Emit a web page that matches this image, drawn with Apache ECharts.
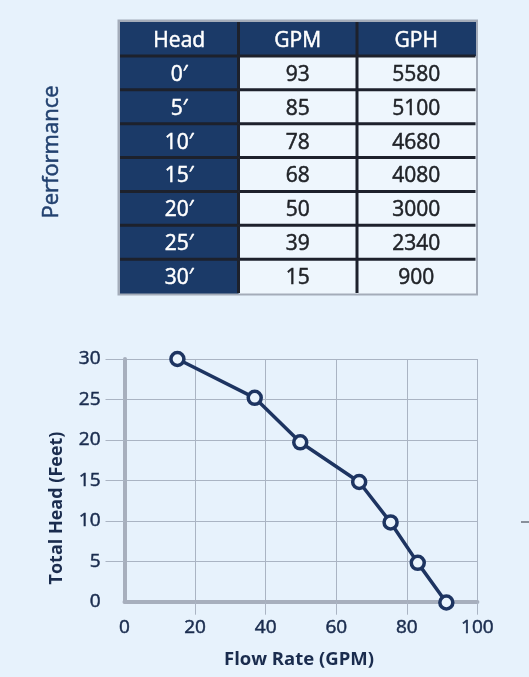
<!DOCTYPE html>
<html lang="en">
<head>
    <meta charset="UTF-8"/>
    <title>Performance</title>
    <script src="https://cdn.jsdelivr.net/npm/echarts@6/dist/echarts.min.js"></script>
    <style>
        html, body {
            margin: 0;
            padding: 0;
            background-color: #e7f2fc;
        }

        #chart {
            width: 529px;
            height: 677px;
        }
    </style>
</head>
<body>
<div id="chart"></div>

<script>
    // table values
    const tableHeaders = ['Head', 'GPM', 'GPH'];
    const headLabels = ['0′', '5′', '10′', '15′', '20′', '25′', '30′'];
    const gpmValues = [93, 85, 78, 68, 50, 39, 15];
    const gphValues = [5580, 5100, 4680, 4080, 3000, 2340, 900];

    // curve points as plotted (flow in GPM, head in feet)
    const curveFlow = [15, 36.9, 49.8, 66.5, 75.4, 83.1, 91.2];
    const curveHead = [30, 25.2, 19.7, 14.8, 9.8, 4.8, -0.1];

    const xTicks = [0, 20, 40, 60, 80, 100];
    const yTicks = [0, 5, 10, 15, 20, 25, 30];

    const NAVY = '#1b3a68';
    const INK = '#1a2c4e';
    const FONT = '"Open Sans", Lato, sans-serif';

    // table cells: [col, row], text looked up by index
    const cellPos = [];
    const cellText = [];
    tableHeaders.forEach(function (h, c) {
        cellPos.push([c, 0]);
        cellText.push(h);
    });
    headLabels.forEach(function (h, i) {
        const row = [h, String(gpmValues[i]), String(gphValues[i])];
        row.forEach(function (t, c) {
            cellPos.push([c, i + 1]);
            cellText.push(t);
        });
    });
    const rowCount = headLabels.length + 1;

    function renderCell(params, api) {
        const col = api.value(0);
        const row = api.value(1);
        const c = api.coord([col, row]);
        const s = api.size([1, 1]);
        const x0 = c[0] - s[0] / 2;
        const y0 = c[1] - s[1] / 2;
        const dark = col === 0 || row === 0;
        const ink = dark ? '#ffffff' : '#202328';
        const children = [
            {
                type: 'rect',
                z2: 0,
                shape: {x: x0, y: y0, width: s[0] + 0.5, height: s[1] + 0.5},
                style: {fill: dark ? NAVY : '#eef6fd'}
            },
            {
                type: 'text',
                z2: 5,
                style: {
                    text: cellText[params.dataIndex],
                    x: c[0],
                    y: c[1] + 2,
                    align: 'center',
                    verticalAlign: 'middle',
                    fill: ink,
                    stroke: ink,
                    lineWidth: 0.5,
                    font: '21px ' + FONT
                }
            }
        ];
        if (col < tableHeaders.length - 1) {
            children.push({
                type: 'line', z2: 10,
                shape: {x1: x0 + s[0], y1: y0, x2: x0 + s[0], y2: y0 + s[1]},
                style: {stroke: '#1d212c', lineWidth: 3}
            });
        }
        if (row < rowCount - 1) {
            children.push({
                type: 'line', z2: 10,
                shape: {x1: x0, y1: y0 + s[1], x2: x0 + s[0], y2: y0 + s[1]},
                style: {stroke: '#1d212c', lineWidth: 3}
            });
        }
        return {type: 'group', children: children};
    }

    const tickLabel = {
        fontSize: 19, color: INK, fontFamily: FONT,
        textBorderColor: INK, textBorderWidth: 0.5
    };

    const chart = echarts.init(document.getElementById('chart'));
    chart.setOption({
        backgroundColor: '#e7f2fc',
        animation: false,
        textStyle: {fontFamily: FONT},
        grid: [
            {
                left: 120, right: 53.5, top: 22, bottom: 384,
                show: true, borderColor: '#a4acb9', borderWidth: 5, backgroundColor: 'transparent'
            },
            {left: 124.5, right: 51.6, top: 359, bottom: 75.3}
        ],
        xAxis: [
            {
                gridIndex: 0, type: 'category', data: tableHeaders, show: false
            },
            {
                gridIndex: 1,
                type: 'value',
                min: 0,
                max: 100,
                interval: 20,
                axisLine: {show: true, lineStyle: {color: '#a7afbd', width: 4}},
                axisTick: {
                    show: true, length: 13, customValues: xTicks.slice(1),
                    lineStyle: {color: '#aab4c3', width: 1}
                },
                axisLabel: Object.assign({margin: 16, customValues: xTicks}, tickLabel),
                splitLine: {show: true, lineStyle: {color: '#aab4c3', width: 1}}
            }
        ],
        yAxis: [
            {
                gridIndex: 0, type: 'category', inverse: true,
                data: ['header'].concat(headLabels), show: false
            },
            {
                gridIndex: 1,
                type: 'value',
                min: 0,
                max: 30,
                interval: 5,
                axisLine: {show: true, lineStyle: {color: '#a7afbd', width: 4}},
                axisTick: {
                    show: true, length: 19, customValues: yTicks.slice(1),
                    lineStyle: {color: '#aab4c3', width: 1}
                },
                axisLabel: Object.assign({margin: 24, customValues: yTicks}, tickLabel),
                splitLine: {show: true, lineStyle: {color: '#aab4c3', width: 1}}
            }
        ],
        graphic: [
            {
                type: 'text', x: 52, y: 152, rotation: Math.PI / 2,
                style: {
                    text: 'Performance', fill: '#22416f', stroke: '#22416f', lineWidth: 0.5,
                    font: '22px ' + FONT, align: 'center', verticalAlign: 'middle'
                }
            },
            {
                type: 'text', x: 57, y: 508, rotation: Math.PI / 2,
                style: {
                    text: 'Total Head (Feet)', fill: INK, font: 'bold 18px ' + FONT,
                    align: 'center', verticalAlign: 'middle'
                }
            },
            {
                type: 'text', x: 299, y: 660,
                style: {
                    text: 'Flow Rate (GPM)', fill: INK, font: 'bold 18.5px ' + FONT,
                    align: 'center', verticalAlign: 'middle'
                }
            },
            {
                type: 'line', shape: {x1: 521, y1: 522, x2: 529, y2: 522},
                style: {stroke: '#2a2f3a', lineWidth: 1}
            }
        ],
        series: [
            {
                type: 'custom',
                xAxisIndex: 0,
                yAxisIndex: 0,
                renderItem: renderCell,
                data: cellPos
            },
            {
                type: 'line',
                xAxisIndex: 1,
                yAxisIndex: 1,
                clip: false,
                data: curveFlow.map(function (f, i) {
                    return [f, curveHead[i]];
                }),
                symbol: 'circle',
                symbolSize: 13,
                lineStyle: {color: '#1d3461', width: 3.5},
                itemStyle: {color: '#eaf4fd', borderColor: '#1d3461', borderWidth: 3.5},
                z: 5
            }
        ]
    });
</script>
</body>
</html>
